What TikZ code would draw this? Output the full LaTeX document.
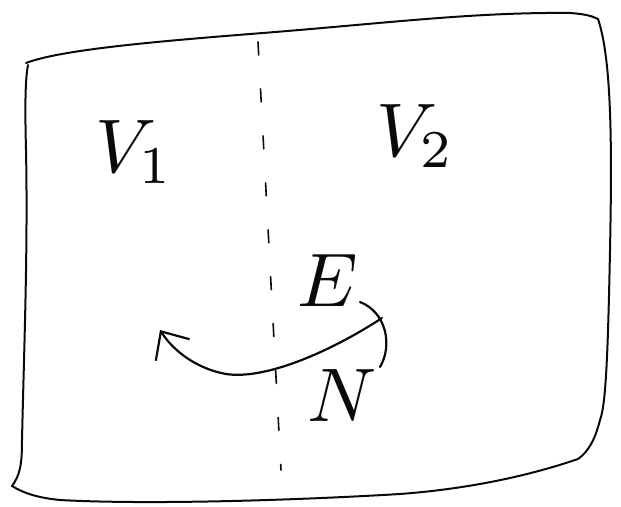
\documentclass[tikz,border=0pt]{standalone}
\definecolor{ink}{RGB}{10,10,10}
\usepackage{tikz}
\usetikzlibrary{arrows.meta}
\newcommand{\hand}[1]{\scalebox{7.6}{#1}}
\tikzset{
  pen/.style={line width=2pt, color=ink, line cap=round, line join=round},
  lbl/.style={inner sep=0pt, anchor=base west, text=ink}
}

\begin{document}
\begin{tikzpicture}[x=1pt, y=-1pt]
  \useasboundingbox (0,0) rectangle (621,506);
  %% 1. Frame
  \draw[pen] (26,63) .. controls (60,50) and (150,42) .. (250,34)
    .. controls (380,24) and (470,12) .. (570,13)
    .. controls (585,14) and (592,16) .. (598,19)
    .. controls (612,60) and (612,150) .. (610,250)
    .. controls (608,350) and (606,405) .. (600,420)
    .. controls (595,440) and (588,452) .. (578,459)
    .. controls (540,472) and (480,488) .. (400,494)
    .. controls (300,500) and (150,505) .. (60,500)
    .. controls (40,498) and (25,494) .. (12,486)
    .. controls (20,475) and (22,465) .. (22,440)
    .. controls (24,350) and (28,250) .. (26,150)
    .. controls (25,110) and (25,80) .. (28,65);
  %% 2. Divider
  \draw[pen, line width=1.6pt, dash pattern=on 13pt off 34pt] (258,42) -- (281,470);
  %% 3. Labels
  \node[lbl] (v1) at (95,172) {\hand{$V_1$}};
  \node[lbl] (v2) at (376,156) {\hand{$V_2$}};
  \node[lbl] (e) at (297,306) {\hand{$E$}};
  \node[lbl] (n) at (307,421) {\hand{$N$}};
  %% 4. Curved arrow
  \coordinate (arcR) at (382,318);
  \coordinate (arcL) at (160,330);
  \draw[pen, line width=2.2pt, -{Straight Barb[length=22pt, width=40pt, line width=2.2pt]}]
    (arcR) .. controls (330,352) and (265,380) .. (226,374)
    .. controls (198,369) and (174,352) .. (arcL);
  \draw[pen, line width=2.2pt] (360,302) .. controls (386,312) and (393,345) .. (380,367);
\end{tikzpicture}
\end{document}
